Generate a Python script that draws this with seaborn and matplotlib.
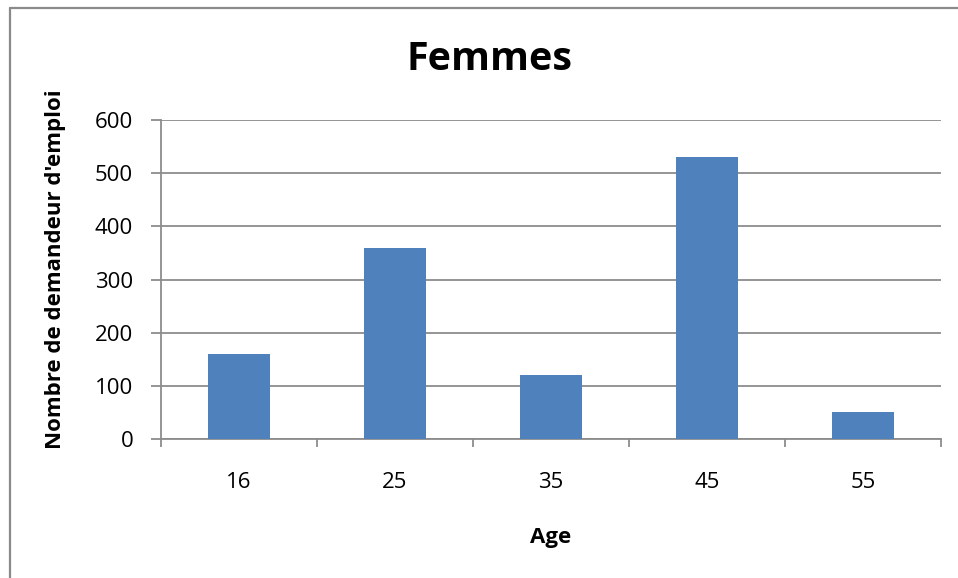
import matplotlib
matplotlib.use("Agg")
import matplotlib.pyplot as plt
from matplotlib.lines import Line2D
import seaborn as sns
import pandas as pd

# Data: job seekers (women) by age group
ages = ["16", "25", "35", "45", "55"]
counts = [160, 360, 120, 530, 50]
y_ticks = [0, 100, 200, 300, 400, 500, 600]

df = pd.DataFrame({"Age": ages, "Nombre": counts})

sns.set_theme(style="white")
plt.rcParams["font.family"] = ["Open Sans", "DejaVu Sans"]

W, H = 958, 578
fig = plt.figure(figsize=(W / 100, H / 100), dpi=100)
fig.patch.set_facecolor("white")

ax = fig.add_axes([161 / W, 1 - 439 / H, (941 - 161) / W, (439 - 120) / H])
sns.barplot(data=df, x="Age", y="Nombre", color="#4F81BD", width=0.4,
            saturation=1, ax=ax, zorder=3, edgecolor="none")

grid_c = "#8C8C8C"
ax.set_ylim(0, 600)
ax.set_xlim(-0.5, len(ages) - 0.5)
ax.set_yticks(y_ticks)
ax.yaxis.grid(True, color=grid_c, linewidth=1.3, zorder=0)
ax.set_axisbelow(True)

# Category boundary ticks (major) and centred labels (minor)
ax.set_xticks([i - 0.5 for i in range(len(ages) + 1)])
ax.set_xticklabels([])
ax.set_xticks(range(len(ages)), minor=True)
ax.set_xticklabels(ages, minor=True)
ax.tick_params(axis="x", which="major", length=6, width=1.3, color=grid_c,
               direction="out", bottom=True)
ax.tick_params(axis="x", which="minor", length=0, pad=24, labelsize=16,
               labelcolor="black")
ax.tick_params(axis="y", length=7, width=1.3, color=grid_c, direction="out",
               left=True, pad=13, labelsize=16, labelcolor="black")

for side in ["top", "right"]:
    ax.spines[side].set_visible(False)
for side in ["left", "bottom"]:
    ax.spines[side].set_color(grid_c)
    ax.spines[side].set_linewidth(1.3)

ax.set_xlabel("Age", fontsize=16, fontweight="bold", color="black")
ax.set_ylabel("Nombre de demandeur d'emploi", fontsize=16,
              fontweight="bold", color="black")
ax.xaxis.set_label_coords(0.5, -(543 - 439) / 319, transform=ax.transAxes)
ax.xaxis.label.set_va("baseline")
ax.yaxis.set_label_coords(-(161 - 66) / 780, (439 - 269) / 319)

fig.text(490 / W, 1 - 60 / H, "Femmes", fontsize=28.5, fontweight="bold",
         ha="center", va="center", color="black")

# Outer chart frame (top and left edges visible)
frame_c = "#8A8A8A"
fig.add_artist(Line2D([9.5 / W, 1.0], [1 - 7.5 / H, 1 - 7.5 / H],
                      transform=fig.transFigure, color=frame_c, linewidth=1.6))
fig.add_artist(Line2D([9.5 / W, 9.5 / W], [0.0, 1 - 7.5 / H],
                      transform=fig.transFigure, color=frame_c, linewidth=1.6))

fig.savefig("out.png", dpi=100, facecolor="white")
